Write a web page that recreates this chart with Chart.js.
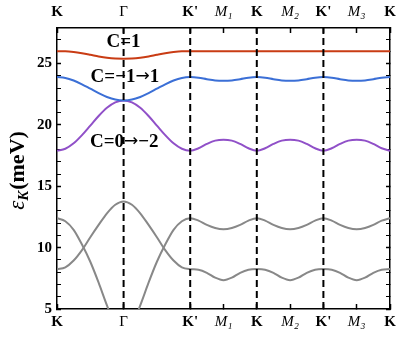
<!DOCTYPE html>
<html><head><meta charset="utf-8">
<script src="https://cdn.jsdelivr.net/npm/chart.js@4.4.0/dist/chart.umd.min.js"></script>
<style>html,body{margin:0;padding:0;background:#fff}</style>
</head><body>
<canvas id="c" width="399" height="338" style="display:block;width:399px;height:338px"></canvas>
<script>
// ---- data ----
const kPath = [0,0.25,0.5,0.75,1,1.25,1.5,1.75,2,2.25,2.5,2.75,3,3.25,3.5,3.75,4,
  4.25,4.5,4.75,5,5.25,5.5,5.75,6,6.25,6.5,6.75,7,7.25,7.5,7.75,8,8.25,8.5,8.75,9,9.25,9.5,9.75,10];
const bandRed = [26.0,26.0,25.95,25.85,25.72,25.58,25.47,25.41,25.4,25.41,25.47,25.58,25.72,25.85,25.95,26.0,26.0,
  26.0,26.0,26.0,26.0,26.0,26.0,26.0,26.0,26.0,26.0,26.0,26.0,26.0,26.0,26.0,26.0,26.0,26.0,26.0,26.0,26.0,26.0,26.0,26.0];
const bandBlue = [23.9,23.83,23.62,23.31,22.95,22.59,22.28,22.07,22.0,22.07,22.28,22.59,22.95,23.31,23.62,23.83,23.9,
  23.85,23.73,23.63,23.6,23.63,23.73,23.85,23.9,
  23.85,23.73,23.63,23.6,23.63,23.73,23.85,23.9,
  23.85,23.73,23.63,23.6,23.63,23.73,23.85,23.9];
const bandPurple = [17.9,18.06,18.5,19.17,19.95,20.73,21.4,21.84,22.0,21.84,21.4,20.73,19.95,19.17,18.5,18.06,17.9,
  18.1,18.45,18.72,18.8,18.72,18.45,18.1,17.9,
  18.1,18.45,18.72,18.8,18.72,18.45,18.1,17.9,
  18.1,18.45,18.72,18.8,18.72,18.45,18.1,17.9];
const bandGrayA = [12.4,12.15,11.45,10.25,8.85,7.15,5.3,3.7,3.1,3.7,5.3,7.15,8.85,10.25,11.45,12.15,12.4,
  12.2,11.85,11.6,11.5,11.6,11.85,12.2,12.4,
  12.2,11.85,11.6,11.5,11.6,11.85,12.2,12.4,
  12.2,11.85,11.6,11.5,11.6,11.85,12.2,12.4];
const bandGrayB = [8.25,8.4,8.95,9.8,10.85,11.85,12.8,13.5,13.77,13.5,12.8,11.85,10.85,9.8,8.95,8.4,8.25,
  8.2,7.95,7.55,7.35,7.55,7.95,8.2,8.25,
  8.2,7.95,7.55,7.35,7.55,7.95,8.2,8.25,
  8.2,7.95,7.55,7.35,7.55,7.95,8.2,8.25];
const xTickPos = [0,2,4,5,6,7,8,9,10];
const xTickLabels = ['K','\u0393',"K'",'M\u2081','K','M\u2082',"K'",'M\u2083','K'];
const dashPos = [2,4,6,8];
const yTickValues = [5,6,7,8,9,10,11,12,13,14,15,16,17,18,19,20,21,22,23,24,25,26,27];
const yMin = 5, yMax = 27.9;
const chernLabels = ['C=1','C=\u22121\u21921','C=0\u2192\u22122'];
const chernAt = [[2.0,26.76],[2.04,23.92],[2.02,18.62]];

// ---- chart ----
const SERIF = '"Liberation Serif", "DejaVu Serif", serif';
const pts = ys => kPath.map((x,i)=>({x:x, y:ys[i]}));
const bandDs = (ys,color) => ({data:pts(ys), borderColor:color, borderWidth:2, pointRadius:0,
  cubicInterpolationMode:'monotone', fill:false});
const dashDs = dashPos.map(p=>({data:[{x:p,y:yMin},{x:p,y:yMax}], borderColor:'#000', borderWidth:2,
  borderDash:[7,4], pointRadius:0, fill:false}));

function xTickFont(ctx){
  const lab = xTickLabels[ctx.index] || '';
  if (lab.startsWith('M')) return {family:SERIF, size:15, style:'italic', weight:'normal'};
  if (lab === '\u0393') return {family:SERIF, size:15, weight:'normal'};
  return {family:SERIF, size:15, weight:'bold'};
}
const setXTicks = s => { s.ticks = xTickPos.map(v=>({value:v})); };
const setYTicks = s => { s.ticks = yTickValues.map(v=>({value:v})); };
const tickW = ctx => (ctx.tick && ctx.tick.value % 5 === 0) ? 1.5 : 1;
const fitH = h => s => { s.height = h; s.paddingLeft = 0; s.paddingRight = 0; };
const fitW = w => s => { s.width = w; s.paddingTop = 0; s.paddingBottom = 0; };

const TXT_FONT = 'bold 19px ' + SERIF;
const ARROW_FONT = '17px "DejaVu Sans", sans-serif';
function drawMixed(ctx, text, cx, cy){
  const parts = text.split(/(\u2192)/).filter(p=>p.length);
  const widths = parts.map(p=>{ ctx.font = (p === '\u2192') ? ARROW_FONT : TXT_FONT; return ctx.measureText(p).width; });
  let x = cx - widths.reduce((a,b)=>a+b,0)/2;
  parts.forEach((p,i)=>{
    ctx.font = (p === '\u2192') ? ARROW_FONT : TXT_FONT;
    ctx.fillText(p, x, cy + (p === '\u2192' ? 0 : 0));
    x += widths[i];
  });
}

const overlay = {
  id:'overlay',
  beforeDatasetsDraw(chart){
    const {ctx, scales} = chart;
    ctx.save();
    ctx.fillStyle = '#000';
    ctx.textAlign = 'left';
    ctx.textBaseline = 'middle';
    chernLabels.forEach((t,i)=>{
      drawMixed(ctx, t, scales.x.getPixelForValue(chernAt[i][0]), scales.y.getPixelForValue(chernAt[i][1]));
    });
    ctx.restore();
  },
  afterDraw(chart){
    const {ctx, chartArea} = chart;
    ctx.save();
    ctx.translate(17, (chartArea.top + chartArea.bottom)/2 + 2);
    ctx.rotate(-Math.PI/2);
    ctx.fillStyle = '#000';
    ctx.textBaseline = 'alphabetic';
    const f1 = 'italic 23px ' + SERIF, f2 = 'italic bold 15px ' + SERIF, f3 = 'bold 22px ' + SERIF;
    ctx.font = f1; const w1 = ctx.measureText('\u03b5').width;
    ctx.font = f2; const w2 = ctx.measureText('K').width;
    ctx.font = f3; const w3 = ctx.measureText('(meV)').width;
    let x0 = -(w1 + w2 + 1 + w3)/2;
    ctx.font = f1; ctx.fillText('\u03b5', x0, 7); x0 += w1;
    ctx.font = f2; ctx.fillText('K', x0, 11); x0 += w2 + 1;
    ctx.font = f3; ctx.fillText('(meV)', x0, 7);
    ctx.restore();
  }
};

new Chart(document.getElementById('c'), {
  type:'line',
  data:{datasets:[...dashDs,
    bandDs(bandRed,'#C93C14'),
    bandDs(bandBlue,'#3B6FD6'),
    bandDs(bandPurple,'#9050C8'),
    bandDs(bandGrayA,'#888888'),
    bandDs(bandGrayB,'#888888')]},
  options:{
    responsive:false, animation:false, devicePixelRatio:1,
    layout:{padding:0},
    plugins:{legend:{display:false}, tooltip:{enabled:false}},
    scales:{
      x:{type:'linear', position:'bottom', min:0, max:10,
        afterBuildTicks:setXTicks, afterFit:fitH(29),
        ticks:{autoSkip:false, maxRotation:0, padding:9, color:'#000',
          callback:(v,i)=>xTickLabels[i], font:xTickFont},
        grid:{drawOnChartArea:false, tickLength:-5, tickWidth:1.5, tickColor:'#000'},
        border:{color:'#000', width:1.5}},
      x2:{type:'linear', position:'top', min:0, max:10,
        afterBuildTicks:setXTicks, afterFit:fitH(28),
        ticks:{autoSkip:false, maxRotation:0, padding:12, color:'#000',
          callback:(v,i)=>xTickLabels[i], font:xTickFont},
        grid:{drawOnChartArea:false, tickLength:-5, tickWidth:1.5, tickColor:'#000'},
        border:{color:'#000', width:1.5}},
      y:{type:'linear', position:'left', min:yMin, max:yMax,
        afterBuildTicks:setYTicks, afterFit:fitW(57),
        ticks:{autoSkip:false, padding:9, color:'#000',
          callback:v=> (v % 5 === 0 ? String(v) : ''),
          font:{family:SERIF, size:15, weight:'bold'}},
        grid:{drawOnChartArea:false, tickLength:-4, tickWidth:tickW, tickColor:'#000'},
        border:{color:'#000', width:1.5}},
      y2:{type:'linear', position:'right', min:yMin, max:yMax,
        afterBuildTicks:setYTicks, afterFit:fitW(9),
        ticks:{display:false},
        grid:{drawOnChartArea:false, tickLength:-4, tickWidth:tickW, tickColor:'#000'},
        border:{color:'#000', width:1.5}}
    }
  },
  plugins:[overlay]
});
</script>
</body></html>
